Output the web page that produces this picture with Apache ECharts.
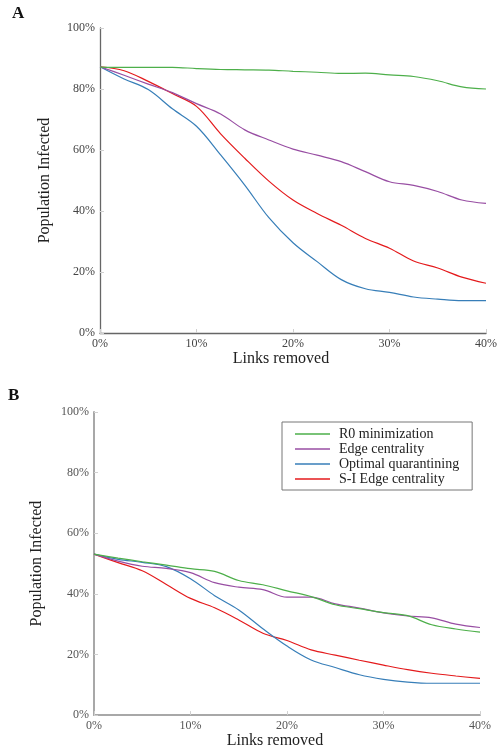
<!DOCTYPE html>
<html>
<head>
<meta charset="utf-8">
<script src="https://cdn.jsdelivr.net/npm/echarts@6/dist/echarts.min.js"></script>
<style>html,body{margin:0;padding:0;background:#fff}#c{width:501px;height:750px}</style>
</head>
<body>
<div id="c"></div>
<script>
// x positions (% of links removed)
const linksRemoved = [0, 2.5, 5, 7.5, 10, 12.5, 15, 17.5, 20, 22.5, 25, 27.5, 30, 32.5, 35, 37.5, 40];
const seriesNames = ["R0 minimization", "Edge centrality", "Optimal quarantining", "S-I Edge centrality"];
const yTicks = [0, 20, 40, 60, 80, 100];
const xTicks = [0, 10, 20, 30, 40];

// Panel A values (% population infected)
const a_r0      = [87.2, 87.1, 87.1, 87.1, 86.7, 86.4, 86.3, 86.2, 85.8, 85.5, 85.1, 85.2, 84.6, 84.1, 82.7, 80.7, 80.0];
const a_edge    = [87.3, 84.5, 81.6, 78.8, 75.2, 71.8, 66.6, 63.3, 60.3, 58.3, 56.2, 52.9, 49.6, 48.4, 46.4, 43.6, 42.5];
const a_optimal = [87.3, 83.3, 79.8, 73.5, 67.8, 58.4, 48.5, 37.8, 29.6, 23.4, 17.5, 14.5, 13.3, 11.8, 11.1, 10.6, 10.6];
const a_si      = [87.3, 86.0, 82.5, 78.5, 74.3, 65.3, 57.3, 49.8, 43.6, 39.2, 35.3, 31.0, 27.8, 23.6, 21.3, 18.3, 16.3];

// Panel B values (% population infected)
const b_r0      = [53.1, 51.8, 50.6, 49.5, 48.3, 47.4, 44.4, 43.0, 41.0, 39.1, 36.4, 35.1, 33.8, 32.8, 29.8, 28.4, 27.4];
const b_edge    = [53.1, 50.8, 49.1, 48.4, 47.0, 43.7, 42.2, 41.4, 38.9, 38.9, 36.7, 35.3, 33.7, 32.7, 32.1, 30.0, 28.9];
const b_optimal = [53.1, 51.4, 50.4, 49.0, 45.0, 39.4, 34.7, 28.5, 22.8, 18.2, 15.7, 13.3, 11.8, 10.9, 10.5, 10.5, 10.5];
const b_si      = [53.1, 50.3, 47.6, 43.1, 38.5, 35.4, 31.4, 27.0, 24.6, 21.5, 19.8, 18.1, 16.5, 15.0, 13.8, 12.9, 12.1];

const colors = ["#4daf4a", "#984ea3", "#377eb8", "#e41a1c"];
const SERIF = "'Liberation Serif', 'DejaVu Serif', serif";

function pairs(ys) { return linksRemoved.map((x, i) => [x, ys[i]]); }

function xAxis(gi, axisColor, axisWidth, labelColor) {
  return {
    type: 'value', gridIndex: gi, min: xTicks[0], max: xTicks[xTicks.length - 1], interval: 10,
    name: 'Links removed', nameLocation: 'middle', nameGap: 17,
    nameTextStyle: { fontFamily: SERIF, fontSize: 16, color: '#222', padding: [0, 24, 0, 0] },
    axisLine: { show: true, lineStyle: { color: axisColor, width: axisWidth } },
    axisTick: { show: true, inside: true, length: 4, lineStyle: { color: '#d0d0d0' } },
    axisLabel: { formatter: '{value}%', fontFamily: SERIF, fontSize: 12, color: labelColor, margin: 5 },
    splitLine: { show: false }
  };
}
function yAxis(gi, axisColor, axisWidth, labelColor, gap) {
  return {
    type: 'value', gridIndex: gi, min: yTicks[0], max: yTicks[yTicks.length - 1], interval: 20,
    name: 'Population Infected', nameLocation: 'middle', nameGap: gap, nameRotate: 90,
    nameTextStyle: { fontFamily: SERIF, fontSize: 16, color: '#222' },
    axisLine: { show: true, lineStyle: { color: axisColor, width: axisWidth } },
    axisTick: { show: true, inside: true, length: 4, lineStyle: { color: '#d0d0d0' } },
    axisLabel: { formatter: '{value}%', fontFamily: SERIF, fontSize: 12, color: labelColor, margin: 5 },
    splitLine: { show: false }
  };
}
function mk(name, data, idx, gi) {
  return {
    type: 'line', name: name, xAxisIndex: gi, yAxisIndex: gi, data: pairs(data),
    smooth: 0.35, symbol: 'none', showSymbol: false,
    lineStyle: { color: colors[idx], width: 1.2 }, itemStyle: { color: colors[idx] },
    z: 10 - idx
  };
}

const chart = echarts.init(document.getElementById('c'), null, { renderer: 'canvas' });
chart.setOption({
  animation: false,
  backgroundColor: '#fff',
  title: [
    { text: 'A', left: 7, top: 0, textStyle: { fontFamily: SERIF, fontSize: 17, fontWeight: 'bold', color: '#111' } },
    { text: 'B', left: 3, top: 382, textStyle: { fontFamily: SERIF, fontSize: 17, fontWeight: 'bold', color: '#111' } }
  ],
  grid: [
    { left: 100, top: 28, width: 386, height: 305 },
    { left: 94, top: 412, width: 386, height: 305 }
  ],
  xAxis: [xAxis(0, '#666', 1.3, '#444'), xAxis(1, '#a8a8a8', 2, '#555')],
  yAxis: [yAxis(0, '#666', 1.3, '#444', 47), yAxis(1, '#a8a8a8', 2, '#555', 49)],
  legend: {
    data: seriesNames.map((n, i) => ({ name: n, icon: 'rect', itemStyle: { color: colors[i] } })),
    orient: 'vertical', left: 282, top: 422,
    width: 189,
    padding: [5, 13, 4, 13], itemGap: 1, itemWidth: 35, itemHeight: 1.5,
    borderColor: '#777', borderWidth: 1, backgroundColor: '#fff',
    selectedMode: false,
    textStyle: { fontFamily: SERIF, fontSize: 14, color: '#222', padding: [0, 0, 0, 4] }
  },
  series: [
    mk(seriesNames[0], a_r0, 0, 0), mk(seriesNames[1], a_edge, 1, 0),
    mk(seriesNames[2], a_optimal, 2, 0), mk(seriesNames[3], a_si, 3, 0),
    mk(seriesNames[0], b_r0, 0, 1), mk(seriesNames[1], b_edge, 1, 1),
    mk(seriesNames[2], b_optimal, 2, 1), mk(seriesNames[3], b_si, 3, 1)
  ]
});
</script>
</body>
</html>
